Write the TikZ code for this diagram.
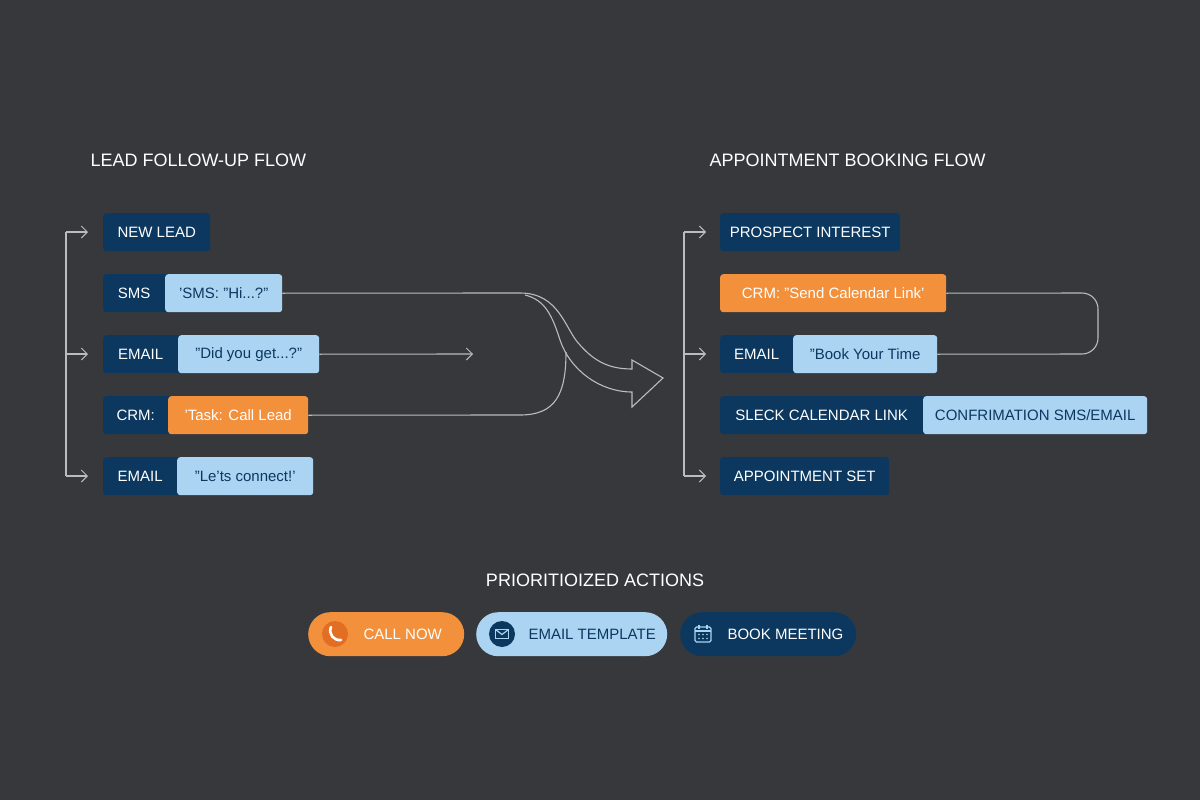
\documentclass[tikz,border=0pt]{standalone}
\usepackage{fontspec}
\setmainfont{Liberation Sans}
\usetikzlibrary{arrows.meta}
\begin{document}
\definecolor{bg}{RGB}{54,56,60}
\definecolor{navy}{RGB}{12,56,96}
\definecolor{lblue}{RGB}{170,212,242}
\definecolor{orng}{RGB}{242,144,60}
\definecolor{dorng}{RGB}{226,110,35}
\definecolor{lin}{RGB}{185,188,192}
\begin{tikzpicture}[x=1pt,y=-1pt,
  box/.style={anchor=north west,minimum height=38pt,rounded corners=3pt,inner sep=0pt,font=\fontsize{15}{18}\selectfont},
  dk/.style={box,fill=navy,text=white},
  lt/.style={box,fill=lblue,text=navy},
  og/.style={box,fill=orng,text=white},
  ttl/.style={text=white,font=\fontsize{18}{22}\selectfont},
  ln/.style={draw=lin,line width=1.1pt},
  arr/.style={ln,-{Straight Barb[length=6pt,width=12pt,line width=1pt]}},
  pill/.style={rounded corners=22pt,minimum height=44pt,inner sep=0pt,anchor=north west,font=\fontsize{15}{18}\selectfont}]
\fill[bg] (0,0) rectangle (1200,800);
\useasboundingbox (0,0) rectangle (1200,800);
% titles
\node[ttl,anchor=west] (t1) at (87,160) {LEAD FOLLOW-UP FLOW};
\node[ttl,anchor=west] (t2) at (706,160) {APPOINTMENT BOOKING FLOW};
\node[ttl] (t3) at (595,580) {PRIORITIOIZED ACTIONS};
% left flow
\node[dk,minimum width=107pt] (nl) at (103,213) {NEW LEAD};
\node[dk,minimum width=68pt] (sms) at (103,274) {\hspace{-6pt}SMS};
\node[lt,minimum width=117pt] (smst) at (165,274) {'SMS: "Hi...?"};
\node[dk,minimum width=81pt] (em1) at (103,335) {\hspace{-6pt}EMAIL};
\node[lt,minimum width=141pt] (em1t) at (178,335) {"Did you get...?"};
\node[dk,minimum width=71pt] (crm) at (103,396) {\hspace{-6pt}CRM:};
\node[og,minimum width=140pt] (crmt) at (168,396) {'Task: Call Lead};
\node[dk,minimum width=80pt] (em2) at (103,457) {\hspace{-6pt}EMAIL};
\node[lt,minimum width=136pt] (em2t) at (177,457) {"Le'ts connect!'};
\coordinate (lb1) at (66,232);
\coordinate (lb2) at (66,476);
\coordinate (e1) at (473,354);
\draw[ln] (lb1) -- (lb2);
\draw[arr] (lb1) -- (88,232);
\draw[arr] (66,354) -- (88,354);
\draw[arr] (lb2) -- (88,476);
\draw[arr] (em1t.east) -- (e1);
% merging lines and hollow arrow
\coordinate (tip) at (663,378);
\draw[ln] (smst.east) -- (520,293) .. controls (560,293) and (565,330) .. (580,345) .. controls (595,362) and (610,369) .. (632,369) -- (632,360) -- (tip) -- (632,407) -- (632,392) .. controls (600,392) and (570,370) .. (560,340) .. controls (552,315) and (545,300) .. (525,295);
\draw[ln] (crmt.east) -- (520,415) .. controls (555,415) and (566,395) .. (566,352);
% right flow
\node[dk,minimum width=180pt] (pi) at (720,213) {PROSPECT INTEREST};
\node[og,minimum width=226pt] (crm2) at (720,274) {CRM: "Send Calendar Link'};
\node[dk,minimum width=77pt] (em3) at (720,335) {\hspace{-4pt}EMAIL};
\node[lt,minimum width=144pt] (em3t) at (793,335) {"Book Your Time};
\node[dk,minimum width=207pt] (sl) at (720,396) {\hspace{-4pt}SLECK CALENDAR LINK};
\node[lt,minimum width=224pt] (slt) at (923,396) {CONFRIMATION SMS/EMAIL};
\node[dk,minimum width=169pt] (as) at (720,457) {APPOINTMENT SET};
\coordinate (rb1) at (684,232);
\coordinate (rb2) at (684,476);
\draw[ln] (rb1) -- (rb2);
\draw[arr] (rb1) -- (706,232);
\draw[arr] (684,354) -- (706,354);
\draw[arr] (rb2) -- (706,476);
\draw[ln,rounded corners=16pt] (crm2.east) -- (1098,293) -- (1098,354) -- (em3t.east);
% buttons
\node[pill,fill=orng,minimum width=156pt] (b1) at (308,612) {};
\node[pill,fill=lblue,minimum width=191pt] (b2) at (476,612) {};
\node[pill,fill=navy,minimum width=176pt] (b3) at (680,612) {};
\node[anchor=west,text=white,font=\fontsize{15}{18}\selectfont] (b1t) at (360,634) {CALL NOW};
\node[anchor=west,text=navy,font=\fontsize{15}{18}\selectfont] (b2t) at (525,634) {EMAIL TEMPLATE};
\node[anchor=west,text=white,font=\fontsize{15}{18}\selectfont] (b3t) at (724,634) {BOOK MEETING};
% phone icon
\fill[dorng] (335,634) circle (13);
\draw[white,line width=2.6pt,line cap=round] (331,627) .. controls (328,634) and (334,641) .. (341,640);
% envelope icon
\fill[navy] (502,634) circle (13);
\draw[lblue,line width=1.2pt] (495.5,629.5) rectangle (508.5,638.5);
\draw[lblue,line width=1.2pt] (495.5,629.5) -- (502,634.5) -- (508.5,629.5);
% calendar icon
\draw[lblue,line width=1.2pt,rounded corners=1.5pt] (695,627) rectangle (711,642);
\draw[lblue,line width=1.2pt] (695,631) -- (711,631);
\draw[lblue,line width=1.2pt] (699,624.5) -- (699,628.5) (707,624.5) -- (707,628.5);
\foreach \a in {699,703,707}{\foreach \b in {634.5,638.5}{\fill[lblue] (\a,\b) circle (0.9);}}
\end{tikzpicture}
\end{document}
